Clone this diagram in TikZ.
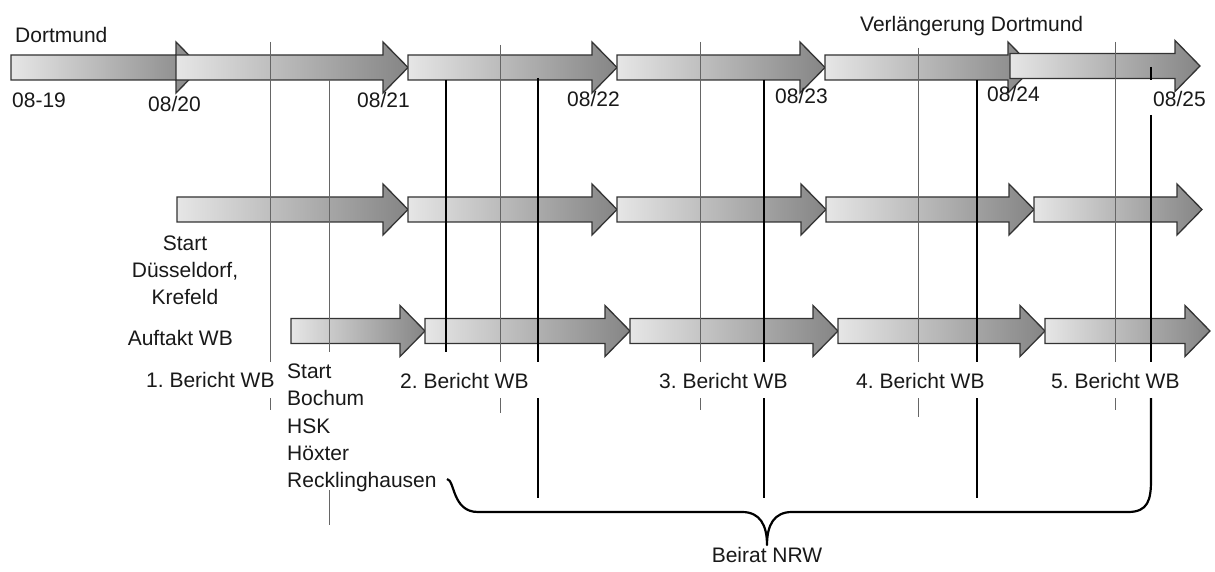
\documentclass[tikz,border=0pt]{standalone}
\usepackage{fontspec}
\setmainfont{Liberation Sans}
\frenchspacing
\definecolor{gl}{HTML}{E6E6E6}
\definecolor{gd}{HTML}{858585}
\newcommand\tlarrow[3]{\path[tarr] (#1,#3-12.5) -- (#2-25,#3-12.5) -- (#2-25,#3-25.5) -- (#2,#3) -- (#2-25,#3+25.5) -- (#2-25,#3+12.5) -- (#1,#3+12.5) -- cycle;}
\begin{document}
\begin{tikzpicture}[x=1pt,y=-1pt,
  tarr/.style={draw=black!80, line width=1.3pt, line join=miter, left color=gl, right color=gd},
  vthin/.style={draw=black!60, line width=0.8pt},
  vthick/.style={draw=black, line width=2.2pt},
  lbl/.style={inner sep=0pt, font=\fontsize{21}{25}\selectfont, text=black!90}]
\useasboundingbox[fill=white] (0,0) rectangle (1215,572);
% row 1
\tlarrow{11}{201}{67.5}
\tlarrow{176}{408}{67.5}
\tlarrow{408}{617}{67.5}
\tlarrow{617}{825}{67.5}
\tlarrow{825}{1033}{67.5}
\tlarrow{1010}{1200}{66}
% row 2
\tlarrow{177}{408}{209.5}
\tlarrow{408}{617}{209.5}
\tlarrow{617}{826}{209.5}
\tlarrow{826}{1034}{209.5}
\tlarrow{1034}{1202}{209.5}
% row 3
\tlarrow{291}{425}{331}
\tlarrow{425}{630}{331}
\tlarrow{630}{838}{331}
\tlarrow{838}{1045}{331}
\tlarrow{1045}{1210}{331}
% thin lines
\draw[vthin] (270,42) -- (270,362) (270,398) -- (270,410);
\draw[vthin] (329,80) -- (329,352) (329,490) -- (329,525);
\draw[vthin] (500,45) -- (500,362) (500,398) -- (500,413);
\draw[vthin] (700,42) -- (700,362) (700,398) -- (700,410);
\draw[vthin] (918,48) -- (918,362) (918,398) -- (918,417);
\draw[vthin] (1115,42) -- (1115,362) (1115,398) -- (1115,410);
% thick lines
\draw[vthick] (446,80) -- (446,352);
\draw[vthick] (538,78) -- (538,362) (538,398) -- (538,498);
\draw[vthick] (764,80) -- (764,362) (764,398) -- (764,498);
\draw[vthick] (977,80) -- (977,362) (977,398) -- (977,498);
\draw[vthick] (1151,67) -- (1151,80) (1151,115) -- (1151,362);
% brace
\draw[vthick, line join=round] (447,479) .. controls (455,480) and (452,512) .. (478,512) -- (742,512)
  .. controls (760,512) and (767,525) .. (767,545)
  .. controls (767,525) and (774,512) .. (792,512) -- (1128,512)
  .. controls (1148,512) and (1151,500) .. (1151,480) -- (1151,398);
% labels
\node[lbl, anchor=base west] (dort) at (15,43) {Dortmund};
\node[lbl, anchor=base west] (verl) at (860,32) {Verlängerung Dortmund};
\node[lbl, anchor=base west] (d19) at (12,108) {08-19};
\node[lbl, anchor=base west] (d20) at (148,112) {08/20};
\node[lbl, anchor=base west] (d21) at (357,108) {08/21};
\node[lbl, anchor=base west] (d22) at (567,107) {08/22};
\node[lbl, anchor=base west] (d23) at (775,104) {08/23};
\node[lbl, anchor=base west] (d24) at (987,102) {08/24};
\node[lbl, anchor=base west] (d25) at (1153,107) {08/25};
\node[lbl, anchor=base] (sd1) at (185,250) {Start};
\node[lbl, anchor=base] (sd2) at (185,277) {Düsseldorf,};
\node[lbl, anchor=base] (sd3) at (185,304) {Krefeld};
\node[lbl, anchor=base east] (auft) at (233,345) {Auftakt WB};
\node[lbl, anchor=base west] (b1) at (146,387) {1. Bericht WB};
\node[lbl, anchor=base west] (sb1) at (287,378) {Start};
\node[lbl, anchor=base west] (sb2) at (287,405) {Bochum};
\node[lbl, anchor=base west] (sb3) at (287,433) {HSK};
\node[lbl, anchor=base west] (sb4) at (287,460) {Höxter};
\node[lbl, anchor=base west] (sb5) at (287,487) {Recklinghausen};
\node[lbl, anchor=base west] (b2) at (400,388) {2. Bericht WB};
\node[lbl, anchor=base west] (b3) at (659,388) {3. Bericht WB};
\node[lbl, anchor=base west] (b4) at (856,388) {4. Bericht WB};
\node[lbl, anchor=base west] (b5) at (1051,388) {5. Bericht WB};
\node[lbl, anchor=base] (beirat) at (767,562) {Beirat NRW};
\end{tikzpicture}
\end{document}
